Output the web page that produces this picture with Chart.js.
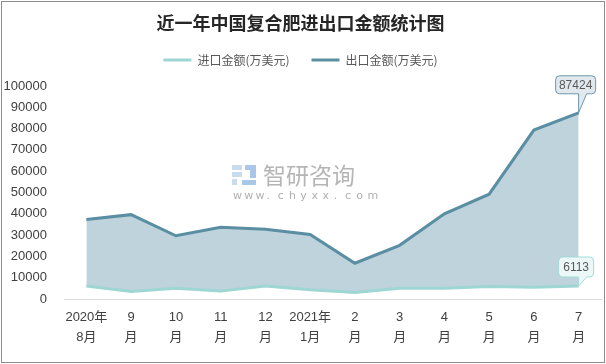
<!DOCTYPE html>
<html>
<head>
<meta charset="utf-8">
<script src="https://cdn.jsdelivr.net/npm/chart.js@4.4.1/dist/chart.umd.min.js"></script>
<style>
  html, body { margin: 0; padding: 0; background: #fff; }
  #wrap { width: 606px; height: 364px; }
</style>
</head>
<body>
<div id="wrap"><canvas id="myChart" width="606" height="364"></canvas></div>
<script>
// data
var months = [['2020年', '8月'], ['9', '月'], ['10', '月'], ['11', '月'], ['12', '月'], ['2021年', '1月'],
              ['2', '月'], ['3', '月'], ['4', '月'], ['5', '月'], ['6', '月'], ['7', '月']];
var importValues = [6100, 3500, 5000, 3700, 6100, 4300, 3100, 5000, 5000, 5900, 5500, 6113];
var exportValues = [37300, 39600, 29700, 33700, 32700, 30300, 16800, 25200, 40000, 49200, 79300, 87424];
var yTicks = [0, 10000, 20000, 30000, 40000, 50000, 60000, 70000, 80000, 90000, 100000];

var importColor = '#9dd6d3';
var exportColor = '#5a8ea3';
var fillColor = 'rgb(191, 211, 220)';

// extra room under the legend
var legendGap = {
    id: 'legendGap',
    beforeInit: function (chart) {
        var origFit = chart.legend.fit;
        chart.legend.fit = function () {
            origFit.bind(chart.legend)();
            this.height += 10;
        };
    }
};

// frame, watermark
var framePlugin = {
    id: 'frame',
    beforeDraw: function (chart) {
        var c = chart.ctx;
        c.save();
        c.fillStyle = '#fff';
        c.fillRect(0, 0, chart.width, chart.height);
        c.restore();
    },
    afterDraw: function (chart) {
        var c = chart.ctx;
        c.save();
        c.strokeStyle = '#8c8c8c';
        c.lineWidth = 1;
        c.strokeRect(1.5, 1.5, chart.width - 3, chart.height - 3);

        // watermark
        c.fillStyle = '#c9dcee';
        c.fillRect(232, 165, 10, 5);
        c.fillRect(232, 172, 10, 5);
        c.fillRect(232, 179, 5, 6);
        c.fillStyle = '#a9c7e6';
        c.fillRect(245, 165, 11, 5);
        c.fillRect(250, 170, 6, 8);
        c.fillRect(242, 180, 14, 5);
        c.fillStyle = '#b5b5b5';
        c.font = '23px "Noto Sans CJK SC"';
        c.textBaseline = 'middle';
        c.fillText('智研咨询', 263, 175);
        c.font = '11px "DejaVu Sans"';
        c.fillStyle = '#b0b0b0';
        var url = 'www.chyxx.com';
        for (var i = 0; i < url.length; i++) {
            c.fillText(url[i], 233 + i * 11.2, 196);
        }
        c.restore();
    }
};

// callout labels on the last points
var calloutPlugin = {
    id: 'callout',
    afterDatasetsDraw: function (chart) {
        var c = chart.ctx;
        var boxes = [
            { ds: 1, w: 40, h: 18, dy: -19, fill: '#e1e9ee', stroke: '#6e97aa' },
            { ds: 0, w: 35, h: 20, dy: -9, fill: '#ecf7f7', stroke: '#a5dad7' }
        ];
        boxes.forEach(function (b) {
            var meta = chart.getDatasetMeta(b.ds);
            var pt = meta.data[meta.data.length - 1];
            var data = chart.data.datasets[b.ds].data;
            var text = String(data[data.length - 1]);
            var left = pt.x - 23 + (b.ds === 0 ? 3 : 0);
            var bottom = pt.y + b.dy;
            var top = bottom - b.h;
            var r = 4;
            c.save();
            c.beginPath();
            c.moveTo(left + r, top);
            c.lineTo(left + b.w - r, top);
            c.quadraticCurveTo(left + b.w, top, left + b.w, top + r);
            c.lineTo(left + b.w, bottom - r);
            c.quadraticCurveTo(left + b.w, bottom, left + b.w - r, bottom);
            c.lineTo(pt.x + 8, bottom);
            c.lineTo(pt.x, pt.y);
            c.lineTo(pt.x, bottom);
            c.lineTo(left + r, bottom);
            c.quadraticCurveTo(left, bottom, left, bottom - r);
            c.lineTo(left, top + r);
            c.quadraticCurveTo(left, top, left + r, top);
            c.closePath();
            c.fillStyle = b.fill;
            c.fill();
            c.strokeStyle = b.stroke;
            c.lineWidth = 1;
            c.stroke();
            c.fillStyle = '#595959';
            c.font = '12px "Liberation Sans"';
            c.textAlign = 'center';
            c.textBaseline = 'middle';
            c.fillText(text, left + b.w / 2, (top + bottom) / 2 + 1);
            c.restore();
        });
    }
};

var ctx = document.getElementById('myChart').getContext('2d');

var myChart = new Chart(ctx, {
    type: 'line',
    data: {
        labels: months,
        datasets: [{
            label: '进口金额(万美元)',
            data: importValues,
            borderColor: importColor,
            backgroundColor: importColor,
            borderWidth: 3,
            pointRadius: 0,
            tension: 0,
            fill: false
        }, {
            label: '出口金额(万美元)',
            data: exportValues,
            borderColor: exportColor,
            backgroundColor: exportColor,
            borderWidth: 3,
            pointRadius: 0,
            tension: 0,
            fill: { target: '-1', above: fillColor, below: fillColor }
        }]
    },
    options: {
        responsive: false,
        animation: false,
        layout: { padding: { top: 12, left: 0, right: 5, bottom: 10 } },
        plugins: {
            title: {
                display: true,
                text: '近一年中国复合肥进出口金额统计图',
                color: '#262626',
                font: { family: '"Noto Sans CJK SC"', size: 18, weight: 'bold', lineHeight: 1.0 },
                padding: { top: 2, bottom: 0 }
            },
            legend: {
                display: true,
                labels: {
                    usePointStyle: true,
                    pointStyle: 'line',
                    pointStyleWidth: 28,
                    color: '#595959',
                    font: { family: '"Noto Sans CJK SC"', size: 12 },
                    padding: 22,
                    generateLabels: function (chart) {
                        return chart.data.datasets.map(function (d, i) {
                            return {
                                text: d.label,
                                fillStyle: d.borderColor,
                                strokeStyle: d.borderColor,
                                lineWidth: 3,
                                pointStyle: 'line',
                                datasetIndex: i,
                                fontColor: '#595959'
                            };
                        });
                    }
                }
            },
            tooltip: { enabled: false }
        },
        scales: {
            x: {
                offset: true,
                grid: { display: false, drawTicks: false },
                border: { display: true, color: '#d9d9d9', width: 1 },
                ticks: {
                    color: '#404040',
                    font: { family: '"Liberation Sans", "Noto Sans CJK SC"', size: 13, lineHeight: 1.55 },
                    padding: 8,
                    maxRotation: 0,
                    autoSkip: false
                },
                afterFit: function (scale) { scale.height = 55; }
            },
            y: {
                min: 0,
                max: 100000,
                afterBuildTicks: function (scale) {
                    scale.ticks = yTicks.map(function (v) { return { value: v }; });
                },
                grid: { display: false, drawTicks: false },
                border: { display: false },
                ticks: {
                    color: '#404040',
                    font: { family: '"Liberation Sans"', size: 13 },
                    padding: 17,
                    callback: function (v) { return String(v); }
                },
                afterFit: function (scale) { scale.width = 64; }
            }
        }
    },
    plugins: [legendGap, framePlugin, calloutPlugin]
});
</script>
</body>
</html>
